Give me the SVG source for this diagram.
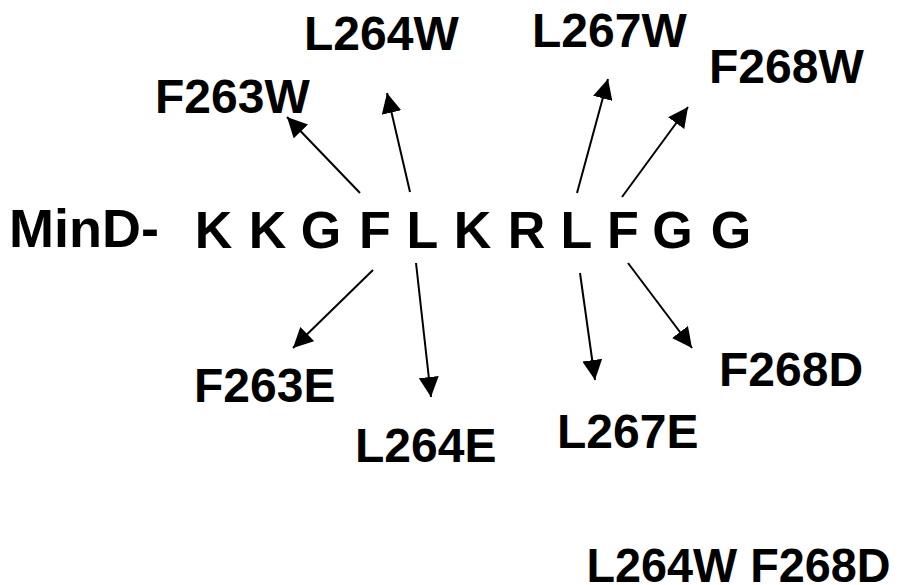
<svg xmlns="http://www.w3.org/2000/svg" width="899" height="585" viewBox="0 0 899 585">
<defs>
<style>
text{font-family:"Liberation Sans",Arial,sans-serif;font-weight:bold;fill:#000}
.lbl{font-size:48px}
.seq{font-size:52px;text-anchor:middle}
.arr{stroke:#000;stroke-width:2;fill:none;marker-end:url(#ah)}
</style>
<marker id="ah" viewBox="0 0 20 20" refX="20" refY="10" markerWidth="20" markerHeight="20" markerUnits="userSpaceOnUse" orient="auto">
<path d="M0,0 L20,10 L0,20 z" fill="#000"/>
</marker>
</defs>
<rect width="899" height="585" fill="#fff"/>
<g id="sequence">
<text x="9" y="247" style="font-size:54px">MinD-</text>
<text class="seq" x="213.5" y="248">K</text>
<text class="seq" x="267.5" y="248">K</text>
<text class="seq" x="321" y="248">G</text>
<text class="seq" x="375" y="248">F</text>
<text class="seq" x="422.5" y="248">L</text>
<text class="seq" x="472.5" y="248">K</text>
<text class="seq" x="526.5" y="248">R</text>
<text class="seq" x="576.5" y="248">L</text>
<text class="seq" x="623" y="248">F</text>
<text class="seq" x="672.5" y="248">G</text>
<text class="seq" x="731" y="248">G</text>
</g>
<g id="connectors">
<line class="arr" x1="360" y1="193" x2="287" y2="117"/>
<line class="arr" x1="410" y1="192" x2="387" y2="93"/>
<line class="arr" x1="577" y1="193" x2="608" y2="79"/>
<line class="arr" x1="622" y1="197" x2="688" y2="107"/>
<line class="arr" x1="373" y1="270" x2="293" y2="348"/>
<line class="arr" x1="416" y1="263" x2="431" y2="397"/>
<line class="arr" x1="580" y1="273" x2="595" y2="380"/>
<line class="arr" x1="628" y1="263" x2="692" y2="348"/>
</g>
<g id="F263W"><text class="lbl" x="155" y="113">F263W</text></g>
<g id="L264W"><text class="lbl" x="304" y="50">L264W</text></g>
<g id="L267W"><text class="lbl" x="532" y="47">L267W</text></g>
<g id="F268W"><text class="lbl" x="709" y="83">F268W</text></g>
<g id="F263E"><text class="lbl" x="194" y="402">F263E</text></g>
<g id="L264E"><text class="lbl" x="355" y="462">L264E</text></g>
<g id="L267E"><text class="lbl" x="557" y="448">L267E</text></g>
<g id="F268D"><text class="lbl" x="719" y="386">F268D</text></g>
<g id="L264W_F268D"><text class="lbl" x="586.5" y="582" textLength="304" lengthAdjust="spacingAndGlyphs">L264W F268D</text></g>
</svg>
